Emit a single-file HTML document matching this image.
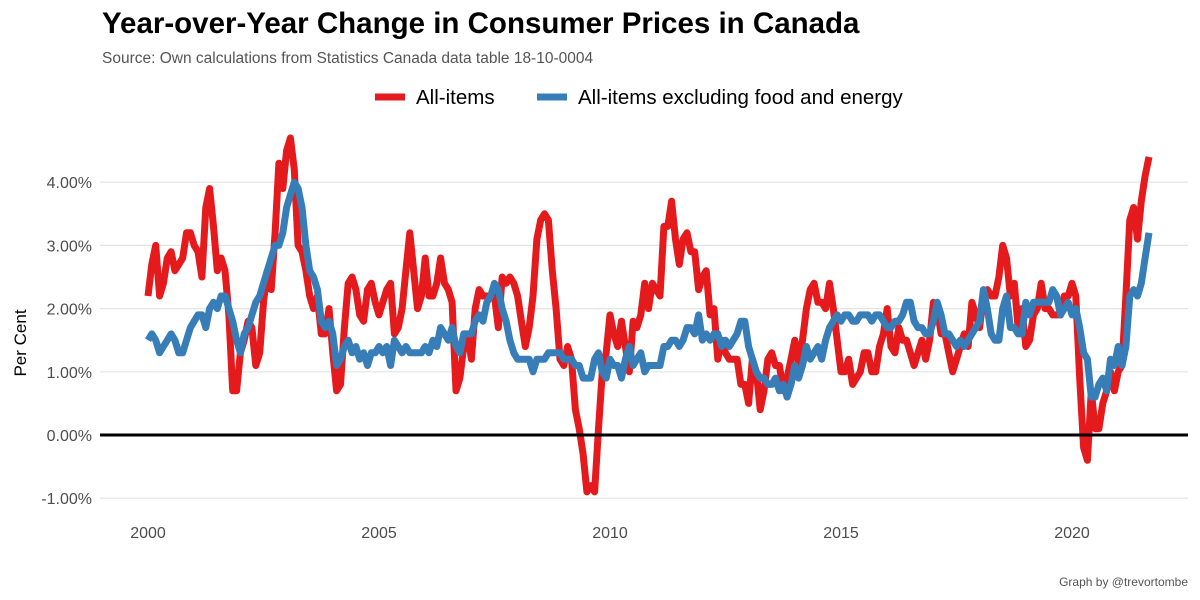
<!DOCTYPE html>
<html><head><meta charset="utf-8"><style>
body{margin:0;background:#fff;font-family:"Liberation Sans",Arial,sans-serif;}
svg{display:block}
</style></head><body>
<svg id="chart" width="1200" height="600">
<text x="102" y="33" font-size="29.5" font-weight="bold" fill="#000">Year-over-Year Change in Consumer Prices in Canada</text>
<text x="102" y="63" font-size="15.5" fill="#555">Source: Own calculations from Statistics Canada data table 18-10-0004</text>
<g>
<g><line x1="375" y1="97" x2="405" y2="97" stroke="#e41a1c" stroke-width="7"/><text x="416" y="104" font-size="20.5" fill="#000">All-items</text></g>
<g><line x1="537" y1="97" x2="567" y2="97" stroke="#377eb8" stroke-width="7"/><text x="578" y="104" font-size="20.5" fill="#000">All-items excluding food and energy</text></g>
</g>
<text transform="translate(26,343) rotate(-90)" text-anchor="middle" font-size="17" fill="#000">Per Cent</text>
<text x="1188" y="586" text-anchor="end" font-size="12" fill="#555">Graph by @trevortombe</text>
<g id="grid"></g><g id="lines"></g><g id="ticks"></g>
</svg>
<script>
const yTicks=[-1,0,1,2,3,4];
const xTicks=[2000,2005,2010,2015,2020];
const startYear=2000;
const allItems=[2.2,2.7,3.0,2.2,2.4,2.8,2.9,2.6,2.7,2.8,3.2,3.2,
3.0,2.9,2.5,3.6,3.9,3.3,2.6,2.8,2.6,1.9,0.7,0.7,
1.3,1.5,1.8,1.7,1.1,1.3,2.1,2.6,2.3,3.2,4.3,3.9,
4.5,4.7,4.2,3.0,2.9,2.6,2.2,2.0,2.2,1.6,1.6,2.0,
1.3,0.7,0.8,1.7,2.4,2.5,2.3,1.9,1.8,2.3,2.4,2.1,
1.9,2.1,2.3,2.4,1.6,1.7,2.0,2.6,3.2,2.6,2.0,2.2,
2.8,2.2,2.2,2.4,2.8,2.4,2.3,2.1,0.7,0.9,1.4,1.6,
1.2,2.0,2.3,2.2,2.2,2.2,2.2,1.7,2.5,2.4,2.5,2.4,
2.2,1.8,1.4,1.7,2.2,3.1,3.4,3.5,3.4,2.6,2.0,1.2,
1.1,1.4,1.2,0.4,0.1,-0.3,-0.9,-0.8,-0.9,0.1,1.0,1.3,
1.9,1.6,1.4,1.8,1.4,1.0,1.8,1.7,1.9,2.4,2.0,2.4,
2.3,2.2,3.3,3.3,3.7,3.1,2.7,3.1,3.2,2.9,2.9,2.3,
2.5,2.6,1.9,2.0,1.2,1.5,1.3,1.2,1.2,1.2,0.8,0.8,
0.5,1.2,1.0,0.4,0.7,1.2,1.3,1.1,1.1,0.7,0.9,1.2,
1.5,1.1,1.5,2.0,2.3,2.4,2.1,2.1,2.0,2.4,2.0,1.5,
1.0,1.0,1.2,0.8,0.9,1.0,1.3,1.3,1.0,1.0,1.4,1.6,
2.0,1.4,1.3,1.7,1.5,1.5,1.3,1.1,1.3,1.5,1.2,1.5,
2.1,2.0,1.6,1.6,1.3,1.0,1.2,1.4,1.6,1.4,2.1,1.9,
1.7,2.2,2.3,2.2,2.2,2.5,3.0,2.8,2.2,2.4,1.7,2.0,
1.4,1.5,1.9,2.0,2.4,2.0,2.0,1.9,1.9,1.9,2.2,2.2,
2.4,2.2,0.9,-0.2,-0.4,0.7,0.1,0.1,0.5,0.7,1.0,0.7,
1.0,1.1,2.2,3.4,3.6,3.1,3.7,4.1,4.4];
const coreItems=[1.5,1.6,1.5,1.3,1.4,1.5,1.6,1.5,1.3,1.3,1.5,1.7,
1.8,1.9,1.9,1.7,2.0,2.1,2.0,2.2,2.2,2.0,1.8,1.5,
1.3,1.6,1.7,1.9,2.1,2.2,2.4,2.6,2.8,3.0,3.0,3.2,
3.6,3.8,4.0,3.9,3.6,3.0,2.6,2.5,2.3,1.8,1.7,1.8,
1.6,1.1,1.2,1.4,1.5,1.3,1.4,1.2,1.3,1.1,1.3,1.3,
1.4,1.3,1.4,1.1,1.5,1.4,1.3,1.4,1.3,1.3,1.3,1.3,
1.4,1.3,1.5,1.4,1.7,1.6,1.5,1.7,1.4,1.3,1.6,1.6,
1.6,1.8,1.9,1.8,2.1,2.2,2.4,2.3,2.0,1.8,1.5,1.3,
1.2,1.2,1.2,1.2,1.0,1.2,1.2,1.2,1.3,1.3,1.3,1.3,
1.2,1.2,1.2,1.1,1.1,0.9,0.9,0.9,1.2,1.3,1.0,0.9,
1.2,1.1,1.1,0.9,1.2,1.4,1.1,1.2,1.3,1.0,1.1,1.1,
1.1,1.1,1.4,1.4,1.5,1.5,1.4,1.5,1.7,1.7,1.6,1.9,
1.5,1.6,1.5,1.6,1.6,1.4,1.5,1.4,1.5,1.6,1.8,1.8,
1.4,1.2,1.0,0.9,0.9,0.8,0.8,0.9,0.7,0.8,0.6,0.8,
1.1,0.9,1.1,1.4,1.2,1.3,1.4,1.2,1.5,1.7,1.8,1.9,
1.8,1.9,1.9,1.8,1.8,1.9,1.9,1.9,1.8,1.9,1.9,1.8,
1.7,1.7,1.8,1.8,1.9,2.1,2.1,1.8,1.7,1.7,1.6,1.6,
1.8,2.1,1.9,1.6,1.6,1.5,1.4,1.5,1.4,1.5,1.6,1.7,
1.8,2.3,2.0,1.6,1.5,1.5,2.0,2.2,1.7,1.7,1.6,1.6,
2.1,1.9,2.1,2.1,2.1,2.1,2.1,2.3,2.2,1.9,2.0,2.1,
1.9,2.0,1.7,1.3,1.2,0.6,0.6,0.8,0.9,0.7,1.2,1.1,
1.4,1.1,1.4,2.2,2.3,2.2,2.4,2.8,3.2];
const NS="http://www.w3.org/2000/svg";
const xS=y=>148+(y-2000)*46.2;
const yS=v=>435-v*63.2;
const grid=document.getElementById('grid'),ticks=document.getElementById('ticks'),lines=document.getElementById('lines');
function mk(tag,attrs,parent){const e=document.createElementNS(NS,tag);for(const k in attrs)e.setAttribute(k,attrs[k]);parent.appendChild(e);return e;}
yTicks.forEach(v=>{
 const l=mk('line',{x1:100,x2:1188,y1:yS(v),y2:yS(v),stroke:'#e3e3e3','stroke-width':1.2},grid);
 
 
 const t=mk('text',{x:92,y:yS(v)+6,'text-anchor':'end','font-size':16,fill:'#4d4d4d'},ticks);
 t.textContent=v.toFixed(2)+'%';
 
 
});
xTicks.forEach(v=>{
 const t=mk('text',{x:xS(v),y:538,'text-anchor':'middle','font-size':16,fill:'#4d4d4d'},ticks);
 t.textContent=v;
 
 
});
function path(data,color,name){
 const d=data.map((v,i)=>(i?'L':'M')+xS(startYear+i/12).toFixed(1)+','+yS(v).toFixed(1)).join('');
 const p=mk('path',{d:d,fill:'none',stroke:color,'stroke-width':7,'stroke-linejoin':'round'},lines);
 
 
}
path(allItems,'#e41a1c','all-items-line');
path(coreItems,'#377eb8','core-line');
const z=mk('line',{x1:100,x2:1188,y1:yS(0),y2:yS(0),stroke:'#000','stroke-width':3},lines);


</script>
</body></html>
